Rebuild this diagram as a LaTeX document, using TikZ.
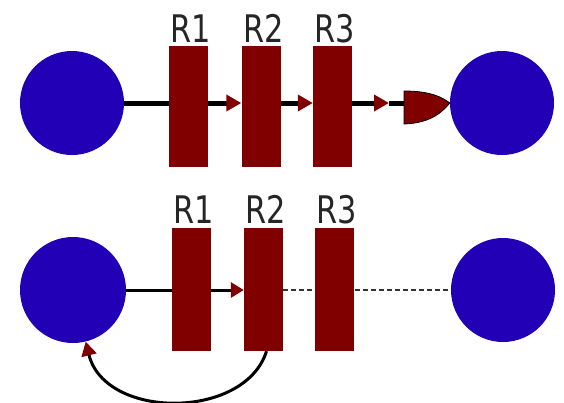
\documentclass[tikz,border=0pt]{standalone}
\usepackage{fontspec}
\usepackage{graphicx}
\setmainfont{DejaVu Sans}
\usetikzlibrary{arrows.meta}
\definecolor{cblue}{RGB}{34,0,182}
\definecolor{dred}{RGB}{128,0,0}
\tikzset{
  ball/.style={circle,fill=cblue,inner sep=0pt,minimum size=#1},
  bar/.style={rectangle,fill=dred,inner sep=0pt,minimum width=39pt,minimum height=#1},
  lab/.style={anchor=base,inner sep=0pt,font=\fontsize{38}{38}\selectfont,text=black!85},
  thickln/.style={line width=5pt,black},
  thinln/.style={line width=3pt,black},
  redtip/.style={-{Triangle[length=#1,width=16pt,color=dred]}},
}
\begin{document}
\begin{tikzpicture}[x=1pt,y=-1pt]
\useasboundingbox (0,0) rectangle (564,402);
% top row
\node[ball=104pt] (L1) at (72,103) {};
\node[ball=104pt] (E1) at (502,103) {};
\coordinate (m1) at (389,103);
\coordinate (bk) at (404,103);
\node[bar=121pt] (A1) at (188.5,106.5) {};
\node[bar=121pt] (B1) at (261,106.5) {};
\node[bar=121pt] (C1) at (332.5,106.5) {};
\draw[thickln,redtip=15pt] (L1.east) -- (B1.west |- L1.east);
\draw[thickln,redtip=15pt] (B1.east |- L1.east) -- (C1.west |- L1.east);
\draw[thickln,redtip=15pt] (C1.east |- L1.east) -- (m1);
\draw[thickln] (m1) -- (bk);
% redraw bars over the line
\node[bar=121pt] at (A1) {};
\node[bar=121pt] at (B1) {};
\node[bar=121pt] at (C1) {};
\draw[fill=dred,draw=black,line width=0.8pt] (404,91) .. controls (432,91) and (443,98) .. (E1.west) .. controls (443,111) and (432,123) .. (404,124) -- cycle;
\node[lab] at (191,42) {\scalebox{0.8}[1]{R1}};
\node[lab] at (263.5,42) {\scalebox{0.8}[1]{R2}};
\node[lab] at (335,42) {\scalebox{0.8}[1]{R3}};
% bottom row
\node[ball=106pt] (L2) at (73,290) {};
\node[ball=104pt] (E2) at (503,290) {};
\node[bar=123pt] (A2) at (191.5,289.5) {};
\node[bar=123pt] (B2) at (263.5,289.5) {};
\node[bar=123pt] (C2) at (334.5,289.5) {};
\draw[thinln,-{Triangle[length=13pt,width=15pt,color=dred]}] (L2.east) -- (B2.west |- L2.east);
\draw[line width=1.3pt,black!80,dash pattern=on 5pt off 3pt] (B2.east |- L2.east) -- (E2.west);
\node[bar=123pt] at (A2) {};
\node[bar=123pt] at (B2) {};
\node[bar=123pt] at (C2) {};
\draw[thinln,-{Triangle[length=14pt,width=15pt,color=dred]}] ([xshift=3pt]B2.south) .. controls (245,420) and (105,420) .. (L2);
\node[lab] at (194,223) {\scalebox{0.8}[1]{R1}};
\node[lab] at (266,223) {\scalebox{0.8}[1]{R2}};
\node[lab] at (337,223) {\scalebox{0.8}[1]{R3}};
\end{tikzpicture}
\end{document}
